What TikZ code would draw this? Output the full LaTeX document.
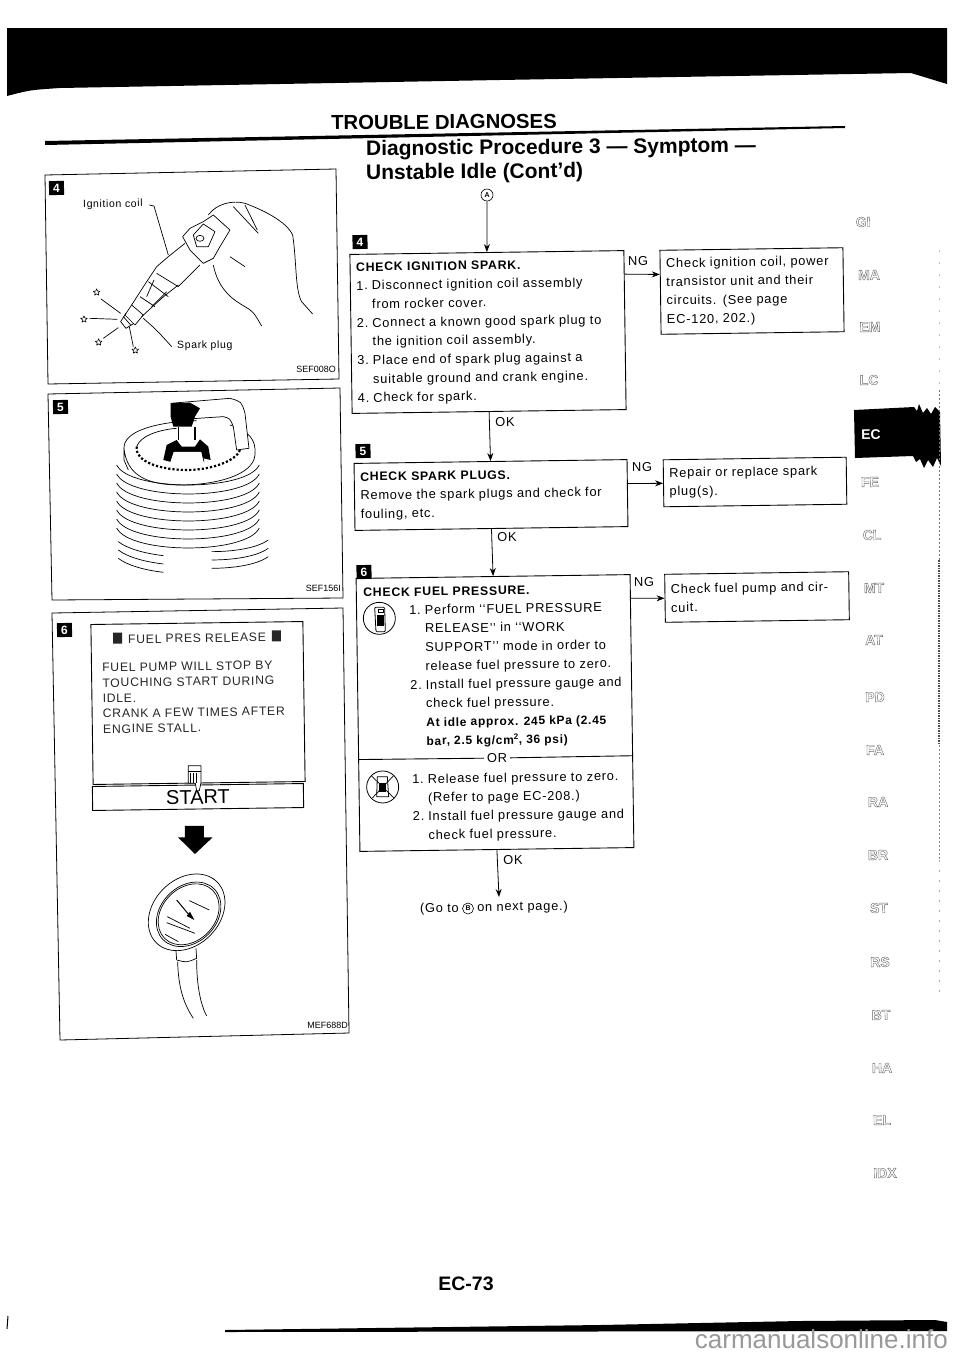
\documentclass[tikz,border=0pt]{standalone}
\usepackage{fontspec}
\setmainfont{Liberation Sans}
\newfontfamily\spaced[LetterSpace=6]{Liberation Sans}
\usetikzlibrary{arrows.meta,calc,shapes.geometric}
\newcommand{\lst}[1]{\makebox[15.5pt][l]{#1}}
\newcommand{\hollow}[1]{\special{pdf:code 1 Tr 0.4 w 0.4 G}#1\special{pdf:code 0 Tr 1 w 0 G}}
\tikzset{
  every node/.style={rotate=.8,inner sep=0pt},
  bodytext/.style={font=\spaced\fontsize{12.85}{18.7}\selectfont,align=left},
  flowbox/.style={draw,line width=.9pt,bodytext,anchor=center,inner xsep=6pt},
  arrowline/.style={line width=.8pt,-{Stealth[length=8pt,width=6pt]}},
  badge/.style={fill=black,text=white,font=\bfseries\fontsize{12}{12}\selectfont,minimum width=15pt,minimum height=14pt},
  labeltext/.style={font=\spaced\fontsize{10.5}{10.5}\selectfont},
  codetext/.style={font=\fontsize{9}{9}\selectfont},
  screentext/.style={font=\spaced\fontsize{12.2}{15.4}\selectfont,align=left,text=black!85},
  panelline/.style={line width=.8pt},
  artline/.style={line width=.7pt,line join=round},
  sidetab/.style={font=\bfseries\fontsize{14}{14}\selectfont},
  circlemark/.style={draw,circle,line width=.6pt,minimum size=12pt,font=\bfseries\fontsize{7}{7}\selectfont},
  sparkstar/.style={star,star points=5,star point ratio=2.2,draw,line width=.6pt,minimum size=7pt}
}
\begin{document}
\begin{tikzpicture}[x=1pt,y=-1pt]
\useasboundingbox (0,0) rectangle (960,1358);
\fill[white] (0,0) rectangle (960,1358);
% top band and rules
\fill (7,28) -- (947,28) -- (947,84) -- (911,73) -- (500,80) -- (60,88) .. controls (30,90) .. (7,96) -- cycle;
\fill (45,141) -- (845,126) -- (845,128) -- (45,145) -- cycle;
\fill (225,1330) -- (600,1325) -- (800,1321) -- (935,1320) -- (947,1322) -- (947,1331) -- (225,1332) -- cycle;
\draw[line width=1pt] (8,1316) -- (7,1329);
% headings
\node[font=\bfseries\fontsize{20.3}{20.3}\selectfont,rotate=-.3] (title) at (444,122) {TROUBLE DIAGNOSES};
\node[font=\bfseries\fontsize{21}{21}\selectfont,anchor=west,rotate=-.35] (head1) at (366,150) {Diagnostic Procedure 3 — Symptom —};
\node[font=\bfseries\fontsize{21}{21}\selectfont,anchor=west,rotate=-.35] (head2) at (366,174) {Unstable Idle (Cont’d)};
\node[font=\bfseries\fontsize{19.5}{19.5}\selectfont,rotate=-.8] (pageno) at (466,1284) {EC-73};
\node[font=\fontsize{26}{26}\selectfont,text=black!40,rotate=-.8,anchor=east] (mark) at (948,1339) {carmanualsonline.info};

% ---------- flow chart
\node[circlemark] (startA) at (487,195) {A};
\node[badge] (b4) at (360,242) {4};
\node[flowbox,minimum width=274pt,minimum height=159pt,text width=262pt] (box4) at (488,332) {%
{\bfseries\fontsize{12.3}{18.7}\selectfont CHECK IGNITION SPARK.}\\
\lst{1.}Disconnect ignition coil assembly\\
\lst{}from rocker cover.\\
\lst{2.}Connect a known good spark plug to\\
\lst{}the ignition coil assembly.\\
\lst{3.}Place end of spark plug against a\\
\lst{}suitable ground and crank engine.\\
\lst{4.}Check for spark.};
\node[flowbox,minimum width=183pt,minimum height=84pt,text width=171pt] (ng4) at (752,291) {Check ignition coil, power\\transistor unit and their\\circuits. (See page\\EC-120, 202.)};
\node[badge] (b5) at (363,451) {5};
\node[flowbox,minimum width=273pt,minimum height=67pt,text width=261pt] (box5) at (491,495) {%
{\bfseries\fontsize{12.3}{18.7}\selectfont CHECK SPARK PLUGS.}\\
Remove the spark plugs and check for\\
fouling, etc.};
\node[flowbox,minimum width=183pt,minimum height=47pt,text width=171pt] (ng5) at (755,482) {Repair or replace spark\\plug(s).};
\node[badge] (b6) at (364,572) {6};
\node[draw,line width=.9pt,minimum width=274pt,minimum height=273pt] (box6) at (495,713) {};
\node[flowbox,minimum width=184pt,minimum height=48pt,text width=172pt] (ng6) at (757,597) {Check fuel pump and cir-\\cuit.};
\node[bodytext,anchor=north west] (fptitle) at (363,588) {\bfseries\fontsize{12.3}{18.7}\selectfont CHECK FUEL PRESSURE.};
\node[bodytext,anchor=north west] (fpa) at (409,605) {%
\lst{1.}Perform ‘‘FUEL PRESSURE\\
\lst{}RELEASE’’ in ‘‘WORK\\
\lst{}SUPPORT’’ mode in order to\\
\lst{}release fuel pressure to zero.\\
\lst{2.}Install fuel pressure gauge and\\
\lst{}check fuel pressure.\\
\lst{}{\bfseries\fontsize{12}{18.7}\selectfont At idle approx. 245 kPa (2.45}\\
\lst{}{\bfseries\fontsize{12}{18.7}\selectfont bar, 2.5 kg/cm\textsuperscript{2}, 36 psi)}};
\node[bodytext,anchor=north west] (fpb) at (412,774) {%
\lst{1.}Release fuel pressure to zero.\\
\lst{}(Refer to page EC-208.)\\
\lst{2.}Install fuel pressure gauge and\\
\lst{}check fuel pressure.};
\node[bodytext,inner xsep=3pt] (orlabel) at (497,758) {OR};
\draw[line width=.9pt] ($(box6.north west)!.663!(box6.south west)$) -- (orlabel.west);
\draw[line width=.9pt] (orlabel.east) -- ($(box6.north east)!.663!(box6.south east)$);
\node[bodytext,anchor=east] (gotoa) at (459,909) {(Go to};
\node[circlemark,minimum size=11pt] (gotob) at (468,908.5) {B};
\node[bodytext,anchor=west] (gotoc) at (477,908) {on next page.)};
\coordinate (gotoend) at (499,897);
% connectors
\draw[arrowline] (startA.south) -- (box4.north);
\draw[arrowline] (box4.south) -- (box5.north);
\draw[arrowline] (box5.south) -- (box6.north);
\draw[arrowline] (box6.south) -- (gotoend);
\draw[arrowline] ($(box4.north east)!.15!(box4.south east)$) -- ($(ng4.north west)!.29!(ng4.south west)$);
\draw[arrowline] ($(box5.north east)!.36!(box5.south east)$) -- ($(ng5.north west)!.5!(ng5.south west)$);
\draw[arrowline] ($(box6.north east)!.088!(box6.south east)$) -- ($(ng6.north west)!.5!(ng6.south west)$);
\node[bodytext] (ng4l) at (638,261) {NG};
\node[bodytext] (ng5l) at (642,467) {NG};
\node[bodytext] (ng6l) at (644,582) {NG};
\node[bodytext] (ok4) at (505,422) {OK};
\node[bodytext] (ok5) at (507,537) {OK};
\node[bodytext] (ok6) at (513,860) {OK};
% icons in box 6
\begin{scope}[shift={(340,560)},x=.3333pt,y=-.3333pt]
  \draw[line width=.8pt] (118,175) circle[radius=16pt];
  \draw[line width=.8pt,rounded corners=1pt] (104,142) -- (134,142) -- (136,215) -- (108,215) -- cycle;
  \fill (112,165) rectangle (131,197);
  \draw[line width=.7pt] (114,148) rectangle (130,158);
  \draw[line width=.8pt] (128,681) circle[radius=16pt];
  \draw[line width=.7pt] (95,648) -- (162,714) (160,648) -- (97,714);
  \draw[line width=.8pt] (112,650) -- (142,650) -- (146,710) -- (110,710) -- cycle;
  \fill (118,668) rectangle (138,695);
\end{scope}

% ---------- left panels
\draw[panelline] (45,175) -- (336,169) -- (339,379) -- (48,384) -- cycle;
\draw[panelline] (48,394) -- (340,388) -- (343,598) -- (52,600) -- cycle;
\draw[panelline] (52,613) -- (343,608) -- (349,1033) -- (60,1040) -- cycle;
\node[badge] (p4) at (56.5,188) {4};
\node[badge] (p5) at (60.5,407) {5};
\node[badge] (p6) at (64.5,630) {6};
\node[labeltext,anchor=west] (coil) at (83,205) {Ignition coil};
\node[labeltext,anchor=west] (plug) at (177,346) {Spark plug};
\node[codetext,anchor=east] (c1) at (336,369) {SEF008O};
\node[codetext,anchor=east] (c2) at (341,588) {SEF156I};
\node[codetext,anchor=east] (c3) at (348,1025) {MEF688D};

% panel 4 art (coordinates in 3x crop at y offset 150)
\begin{scope}[shift={(0,150)},x=.3333pt,y=-.3333pt,artline]
  % hand
  \draw (625,195) .. controls (650,160) and (700,150) .. (735,160) .. controls (790,180) and (860,215) .. (878,255) .. controls (890,330) and (885,420) .. (905,455) -- (938,492);
  \draw (735,165) -- (772,240);
  \draw (700,170) -- (775,250);
  \draw (690,320) -- (735,350);
  \draw (640,345) .. controls (655,420) and (700,450) .. (735,470) .. controls (760,485) .. (785,528);
  % coil head
  \draw (610,215) -- (640,195) -- (690,240) -- (660,290) -- (640,325) -- (610,340) -- (570,300) -- (548,260) -- (570,235) -- cycle;
  \draw (610,222) -- (645,245) -- (625,290) -- (590,290) -- (580,255) -- cycle;
  \draw (600,265) ellipse[x radius=4pt,y radius=3pt];
  % body
  \draw (505,320) -- (555,280);
  \draw (535,410) -- (600,345);
  \draw (470,350) -- (505,320);
  \draw (470,350) .. controls (440,395) .. (395,465);
  \draw (535,405) .. controls (490,440) .. (425,500);
  \draw (470,370) -- (535,410);
  \draw (445,395) -- (505,440);
  \draw (420,440) -- (465,470);
  \draw (462,390) -- (440,440);
  \draw (500,425) -- (455,470);
  % plug tip
  \draw (395,465) -- (430,495) -- (405,525) -- (375,495) -- cycle;
  \draw (378,490) -- (362,515) -- (378,535) -- (402,520);
  \draw (370,500) -- (392,525);
  % sparks
  \draw (303,447) -- (362,490);
  \draw (268,505) -- (352,508);
  \draw (310,565) -- (355,533);
  \draw (388,530) -- (400,590);
  % leaders
  \draw (448,165) -- (462,168) -- (505,315);
  \draw (430,505) .. controls (470,540) .. (515,590);
  \node[sparkstar] (st1) at (290,427) {};
  \node[sparkstar] (st2) at (252,508) {};
  \node[sparkstar] (st3) at (296,577) {};
  \node[sparkstar] (st4) at (406,601) {};
  % panel 5 art
  \draw (372,895) .. controls (370,840) and (480,815) .. (590,812);
  \draw (690,825) .. controls (745,840) and (770,870) .. (765,915) .. controls (760,975) and (650,1005) .. (540,1005) .. controls (440,1005) and (380,975) .. (372,895) -- (372,930) .. controls (380,945) .. (385,960);
  \draw[line width=2.2pt,dotted] (410,890) .. controls (405,935) and (480,960) .. (560,960) .. controls (640,960) and (710,930) .. (720,900);
  \draw (410,890) .. controls (420,860) and (470,840) .. (530,835);
  \foreach \yy in {945,972,999,1026,1053,1080,1107,1134}{
    \draw (350,\yy) .. controls (390,\yy+80) and (740,\yy+80) .. (778,\yy);
  }
  \foreach \yy in {1175,1200,1225}{
    \draw (355,\yy) .. controls (380,\yy+20) and (430,\yy+35) .. (490,\yy+42);
    \draw (635,\yy+30) .. controls (700,\yy+30) and (770,\yy+20) .. (805,\yy-5);
  }
  % electrode
  \fill[white] (512,760) -- (690,745) .. controls (725,755) .. (735,790) -- (747,895) -- (710,900) -- (700,830) .. controls (690,805) .. (670,800) -- (580,806) -- (512,806) -- cycle;
  \draw (512,760) -- (690,745) .. controls (725,755) .. (735,790) -- (747,895) -- (710,900) -- (700,830) .. controls (690,805) .. (670,800) -- (580,806);
  \fill (512,760) -- (570,758) -- (600,775) -- (585,800) -- (575,830) -- (520,830) -- (512,800) -- cycle;
  \draw[line width=1.4pt] (535,830) -- (535,870) (585,830) -- (585,870);
  \fill (490,930) -- (500,885) -- (530,870) -- (545,890) -- (585,890) -- (600,868) -- (625,890) -- (632,930) -- (610,925) -- (605,905) -- (520,905) -- (510,935) -- cycle;
  \draw (510,935) -- (520,905) -- (605,905) -- (612,935);
\end{scope}

% panel 6 art (coordinates in 3x crop at y offset 600)
\node[draw,line width=.9pt,minimum width=212pt,minimum height=160pt] (screen) at (198,703) {};
\node[draw,line width=.9pt,minimum width=211pt,minimum height=24pt,font=\fontsize{20}{20}\selectfont] (startbtn) at (198,797) {START\hspace{10pt}};
\node[font=\spaced\fontsize{12.2}{12.2}\selectfont,text=black!85] (screenhead) at (197,637) {\rule{9pt}{11pt}\hspace{6pt}FUEL PRES RELEASE\hspace{6pt}\rule{9pt}{11pt}};
\node[screentext,anchor=north west] (screenbody) at (102,663) {FUEL PUMP WILL STOP BY\\TOUCHING START DURING\\IDLE.\\CRANK A FEW TIMES AFTER\\ENGINE STALL.};
\begin{scope}[shift={(0,600)},x=.3333pt,y=-.3333pt,artline]
  % finger
  \draw[fill=white] (565,497) -- (603,497) -- (603,548) -- (598,572) -- (590,572) -- (586,550) -- (565,550) -- cycle;
  \draw (572,520) -- (572,550) (580,520) -- (580,550) (588,520) -- (588,550);
  \draw (565,515) -- (603,515);
  % big arrow
  \fill (555,678) -- (612,678) -- (612,712) -- (638,712) -- (585,762) -- (534,712) -- (555,712) -- cycle;
  % gauge
  \draw (560,937) circle[x radius=43pt,y radius=33pt,rotate=45];
  \draw (566,943) circle[x radius=36pt,y radius=28pt,rotate=45];
  \draw (566,943) circle[x radius=34pt,y radius=26.5pt,rotate=45];
  \draw[line width=1pt] (530,900) -- (565,942);
  \fill (560,948) -- (570,935) -- (583,960) -- cycle;
  \draw (568,902) -- (628,930);
  \draw (502,950) -- (570,985);
  \draw (500,968) -- (585,1000);
  \draw (495,1003) -- (535,1025);
  \draw (528,1052) -- (530,1080) .. controls (560,1088) .. (590,1075) -- (588,1045);
  \draw (533,1085) .. controls (535,1160) and (550,1210) .. (580,1255);
  \draw (590,1080) .. controls (590,1150) and (600,1210) .. (620,1248);
\end{scope}

% ---------- side index
\fill (854,410) -- (914,407) -- (917,411) -- (919,404) -- (923,413) -- (927,408) -- (931,414) -- (935,407) -- (940,412) -- (941,466) -- (937,458) -- (933,467) -- (928,460) -- (924,468) -- (920,459) -- (916,462) -- (913,456) -- (855,458) -- cycle;
\node[font=\bfseries\fontsize{14}{14}\selectfont,text=white] (tabEC) at (871,435) {EC};
\node[sidetab] (tGI) at (863,222) {\hollow{GI}};
\node[sidetab] (tMA) at (869,275) {\hollow{MA}};
\node[sidetab] (tEM) at (870,327) {\hollow{EM}};
\node[sidetab] (tLC) at (869,380) {\hollow{LC}};
\node[sidetab] (tFE) at (870,482) {\hollow{FE}};
\node[sidetab] (tCL) at (872,535) {\hollow{CL}};
\node[sidetab] (tMT) at (874,588) {\hollow{MT}};
\node[sidetab] (tAT) at (874,640) {\hollow{AT}};
\node[sidetab] (tPD) at (875,697) {\hollow{PD}};
\node[sidetab] (tFA) at (875,750) {\hollow{FA}};
\node[sidetab] (tRA) at (878,802) {\hollow{RA}};
\node[sidetab] (tBR) at (878,855) {\hollow{BR}};
\node[sidetab] (tST) at (879,908) {\hollow{ST}};
\node[sidetab] (tRS) at (880,962) {\hollow{RS}};
\node[sidetab] (tBT) at (881,1015) {\hollow{BT}};
\node[sidetab] (tHA) at (882,1068) {\hollow{HA}};
\node[sidetab] (tEL) at (882,1120) {\hollow{EL}};
\node[sidetab] (tID) at (885,1173) {\hollow{IDX}};
% scan noise at right edge
\draw[black!55,line width=.8pt,dash pattern=on 2pt off 2pt] (939,390) -- (939,560);
\draw[black!70,line width=1.2pt,dash pattern=on 1.5pt off 1pt] (939,560) -- (939,745);
\draw[black!45,line width=.7pt,dash pattern=on 1.5pt off 2.5pt] (939,745) -- (939,860);
\draw[black!35,line width=.6pt,dash pattern=on 2pt off 8pt] (939,860) -- (939,995);
\draw[black!25,line width=.6pt,dash pattern=on 2pt off 10pt] (939,250) -- (939,390);
\end{tikzpicture}
\end{document}
